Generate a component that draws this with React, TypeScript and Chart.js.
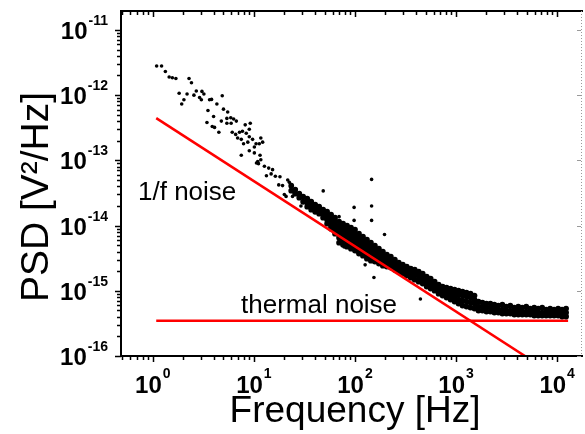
import React, { useEffect, useRef } from "react";
import { Chart, registerables } from "chart.js";

Chart.register(...registerables);

// ---------- data ----------
// scattered measurement points (low frequency / outliers)
const sparseFreqHz = [
  1.09, 1.22, 1.33, 1.45, 1.56, 1.69, 2.28, 2.41, 1.82, 2.03,
  1.93, 2.18, 2.55, 2.69, 2.9, 3.06, 3.2, 3.02, 3.64, 3.81,
  4.86, 4.3, 3.51, 5.0, 5.5, 3.99, 5.4, 5.9, 4.76, 6.3,
  3.43, 3.87, 4.08, 4.5, 5.4, 5.95, 6.7, 6.1, 6.6, 7.2,
  8.2, 9.2, 6.9, 7.5, 8.4, 9.0, 7.9, 8.7, 9.7, 10.5,
  7.5, 9.0, 10.1, 10.6, 7.7, 9.0, 11.7, 10.1, 11.3, 12.2,
  11.5, 10.9, 11.7, 11.1, 12.7, 14.0, 15.3, 13.3, 14.8, 16.3,
  18.1, 17.6, 19.2, 21.6, 22.4, 23.2, 26.1, 20.0, 20.8, 24.1,
  27.0, 29.2, 48.5, 69.6, 98, 98, 146, 146, 146, 196,
  126, 154, 242, 504, 444, 78, 102,
];
const sparsePsd = [
  2.8e-12, 2.8e-12, 2.3e-12, 1.9e-12, 1.85e-12, 1.8e-12, 1.8e-12, 1.55e-12, 1.07e-12, 8.5e-13,
  7.3e-13, 1.04e-12, 1.0e-12, 1.16e-12, 9.2e-13, 1.14e-12, 1.04e-12, 8.5e-13, 8.5e-13, 8.6e-13,
  9.8e-13, 7.3e-13, 5.8e-13, 6.1e-13, 5.5e-13, 4.7e-13, 4.4e-13, 4.5e-13, 4.0e-13, 4.3e-13,
  3.8e-13, 3.3e-13, 3.2e-13, 2.7e-13, 3.7e-13, 3.7e-13, 4.0e-13, 2.7e-13, 2.5e-13, 2.7e-13,
  3.5e-13, 3.7e-13, 2.2e-13, 2.1e-13, 2.6e-13, 2.3e-13, 1.8e-13, 1.9e-13, 2.1e-13, 1.8e-13,
  1.2e-13, 1.4e-13, 1.3e-13, 9.1e-14, 2.8e-13, 3.0e-13, 2.2e-13, 1.6e-13, 1.8e-13, 1.9e-13,
  1.2e-13, 9.6e-14, 1.02e-13, 8.9e-14, 8.1e-14, 7.6e-14, 7.2e-14, 5.8e-14, 6.2e-14, 5.7e-14,
  5.6e-14, 4.2e-14, 4.1e-14, 5.0e-14, 4.6e-14, 3.9e-14, 3.6e-14, 3.0e-14, 2.8e-14, 2.8e-14,
  3.0e-14, 2.0e-14, 3.4e-14, 1.37e-14, 1.9e-14, 1.2e-14, 5.1e-14, 2.0e-14, 1.2e-14, 7.3e-15,
  2.5e-15, 1.6e-15, 2.9e-15, 1.6e-15, 7.5e-16, 4.7e-15, 4.0e-15,
];

// dense band of measurement points: frequency and the PSD values seen at it
const bandFreqHz = [
  23.4, 25.6, 28.1, 30.7, 33.7, 36.9, 40.4, 44.2, 48.4, 53.0, 58.0, 63.5,
  69.6, 76.2, 83.4, 91.3, 100,
  109.5, 119.9, 131.3, 143.7, 157.4, 172.4, 188.7, 206.7, 226.3, 247.8, 271.3, 297.1, 325.3, 356.2, 390,
  427.1, 467.7, 512.1, 560.8, 614.1, 672.4, 736.3, 806.2, 882.8, 966.7, 1058, 1159, 1269, 1390, 1522,
  1666, 1824, 1998, 2187, 2395, 2623, 2872, 3145, 3443, 3771, 4129, 4521, 4950, 5420, 5935, 6499,
  7116, 7792, 8532, 9342, 10230, 11200, 12265,
];
const bandPsd = [
  [4.09e-14, 3.43e-14], [3.55e-14, 3.08e-14], [3.08e-14, 2.68e-14], [2.77e-14, 2.32e-14],
  [2.58e-14, 2.24e-14, 1.95e-14], [2.32e-14, 2.02e-14, 1.75e-14], [2.09e-14, 1.88e-14, 1.63e-14],
  [1.95e-14, 1.69e-14, 1.52e-14], [1.75e-14, 1.52e-14, 1.32e-14],
  [1.63e-14, 1.42e-14, 1.23e-14, 1.07e-14],
  [1.47e-14, 1.28e-14, 1.11e-14, 9.63e-15, 8.97e-15],
  [1.32e-14, 1.15e-14, 9.97e-15, 8.65e-15, 7.51e-15],
  [1.15e-14, 9.97e-15, 8.65e-15, 7.51e-15, 6.53e-15, 5.47e-15],
  [1.07e-14, 9.29e-15, 8.06e-15, 7.0e-15, 6.08e-15, 5.1e-15],
  [9.97e-15, 8.65e-15, 7.51e-15, 6.53e-15, 5.67e-15, 4.75e-15],
  [9.29e-15, 8.06e-15, 7.0e-15, 6.08e-15, 5.28e-15, 4.43e-15],
  [8.65e-15, 7.51e-15, 6.53e-15, 5.67e-15, 4.92e-15, 4.13e-15],
  [7.51e-15, 6.53e-15, 5.67e-15, 4.92e-15, 4.28e-15, 3.72e-15],
  [6.76e-15, 5.87e-15, 5.1e-15, 4.43e-15, 3.85e-15, 3.46e-15],
  [6.08e-15, 5.28e-15, 4.59e-15, 3.99e-15, 3.46e-15, 3.11e-15],
  [5.47e-15, 4.75e-15, 4.13e-15, 3.58e-15, 3.11e-15, 2.9e-15],
  [4.92e-15, 4.28e-15, 3.72e-15, 3.22e-15, 2.8e-15],
  [4.43e-15, 3.85e-15, 3.34e-15, 2.9e-15, 2.61e-15],
  [3.99e-15, 3.46e-15, 3.01e-15, 2.61e-15, 2.43e-15],
  [3.58e-15, 3.11e-15, 2.7e-15, 2.35e-15],
  [3.34e-15, 2.9e-15, 2.52e-15, 2.27e-15],
  [3.01e-15, 2.61e-15, 2.35e-15, 2.11e-15],
  [2.7e-15, 2.43e-15, 2.19e-15, 1.97e-15],
  [2.52e-15, 2.27e-15, 2.04e-15, 1.83e-15],
  [2.35e-15, 2.11e-15, 1.9e-15, 1.71e-15],
  [2.19e-15, 1.97e-15, 1.77e-15, 1.59e-15],
  [2.11e-15, 1.9e-15, 1.71e-15, 1.48e-15],
  [1.97e-15, 1.71e-15, 1.48e-15, 1.38e-15], [1.83e-15, 1.59e-15, 1.38e-15, 1.29e-15],
  [1.65e-15, 1.43e-15, 1.24e-15, 1.16e-15], [1.54e-15, 1.33e-15, 1.16e-15, 1.08e-15],
  [1.38e-15, 1.2e-15, 1.08e-15, 1.005e-15], [1.24e-15, 1.08e-15, 9.7e-16, 9.04e-16],
  [1.16e-15, 1.04e-15, 9.37e-16, 8.43e-16], [1.12e-15, 9.7e-16, 8.74e-16, 7.86e-16],
  [1.08e-15, 9.37e-16, 8.14e-16, 7.33e-16], [1.04e-15, 9.04e-16, 7.86e-16, 6.83e-16],
  [1.005e-15, 8.74e-16, 7.33e-16, 6.36e-16], [9.7e-16, 8.43e-16, 7.07e-16, 5.93e-16],
  [9.37e-16, 8.14e-16, 6.83e-16, 5.73e-16], [9.04e-16, 7.86e-16, 6.59e-16, 5.53e-16],
  [8.43e-16, 7.33e-16, 6.36e-16, 5.34e-16],
  [6.83e-16, 5.73e-16, 4.98e-16], [6.59e-16, 5.73e-16, 4.98e-16], [6.36e-16, 5.53e-16, 4.8e-16],
  [6.36e-16, 5.53e-16, 4.8e-16], [6.15e-16, 5.34e-16, 4.64e-16], [5.93e-16, 5.15e-16, 4.64e-16],
  [6.15e-16, 5.15e-16, 4.48e-16], [5.73e-16, 4.98e-16, 4.48e-16], [5.93e-16, 4.98e-16, 4.48e-16],
  [5.53e-16, 4.8e-16, 4.32e-16], [5.73e-16, 4.98e-16, 4.32e-16], [5.53e-16, 4.8e-16, 4.32e-16],
  [5.73e-16, 4.8e-16, 4.32e-16], [5.34e-16, 4.8e-16, 4.32e-16], [5.53e-16, 4.8e-16, 4.17e-16],
  [5.34e-16, 4.64e-16, 4.17e-16], [5.53e-16, 4.64e-16, 4.17e-16], [5.15e-16, 4.64e-16, 4.17e-16],
  [5.34e-16, 4.64e-16, 4.17e-16], [5.15e-16, 4.48e-16, 4.17e-16], [5.34e-16, 4.64e-16, 4.17e-16],
  [5.15e-16, 4.48e-16, 4.03e-16], [5.34e-16, 4.64e-16, 4.03e-16],
];

// fitted lines
const flickerFreqHz = [1.08, 6000];
const flickerPsd = [4.44e-13, 8.0e-17];
const thermalFreqHz = [1.08, 12840];
const thermalPsd = [3.46e-16, 3.46e-16];

// axes
const xMin = 0.484;
const xMax = 17230;
const yMin = 1e-16;
const yMax = 1.95e-11;
const xTickExponents = [0, 1, 2, 3, 4];
const yTickExponents = [-11, -12, -13, -14, -15, -16];

const xTitle = "Frequency [Hz]";
const yTitle = "PSD [V\u00B2/Hz]";
const flickerLabel = "1/f noise";
const thermalLabel = "thermal noise";

const FONT = '"Liberation Sans", Arial, Helvetica, sans-serif';

function drawPower(ctx: CanvasRenderingContext2D, exp: number, x: number, baseY: number, align: "center" | "right", expRise: number) {
  ctx.textAlign = "left";
  ctx.textBaseline = "alphabetic";
  ctx.font = `bold 24px ${FONT}`;
  const bw = ctx.measureText("10").width;
  ctx.font = `bold 14px ${FONT}`;
  const es = String(exp);
  const ew = ctx.measureText(es).width;
  const gap = 1;
  const total = bw + gap + ew;
  const left = align === "center" ? x - total / 2 : x - total;
  ctx.font = `bold 24px ${FONT}`;
  ctx.fillText("10", left, baseY);
  ctx.font = `bold 14px ${FONT}`;
  ctx.fillText(es, left + bw + gap, baseY - expRise);
}

const framePlugin = {
  id: "originFrame",
  afterDraw(chart: any) {
    const { ctx, chartArea: a, scales } = chart;
    const xs = scales.x;
    const ys = scales.y;
    ctx.save();
    ctx.fillStyle = "#000";
    ctx.strokeStyle = "#000";

    // frame lines
    ctx.lineWidth = 2;
    ctx.beginPath();
    ctx.moveTo(a.left, a.top);
    ctx.lineTo(a.left, a.bottom);
    ctx.lineTo(a.right + 2, a.bottom);
    ctx.moveTo(a.left - 1, a.top);
    ctx.lineTo(a.right + 2, a.top);
    ctx.stroke();

    // right axis (faint, dotted)
    ctx.save();
    ctx.strokeStyle = "#9a9a9a";
    ctx.lineWidth = 1;
    ctx.setLineDash([1, 2]);
    ctx.beginPath();
    ctx.moveTo(a.right + 0.5, a.top);
    ctx.lineTo(a.right + 0.5, a.bottom);
    ctx.stroke();
    ctx.restore();

    // x ticks (bottom: outward, top: inward)
    ctx.lineWidth = 1.5;
    ctx.beginPath();
    for (let e = -1; e <= 4; e++) {
      for (let m = 1; m <= 9; m++) {
        const v = m * Math.pow(10, e);
        if (v < xs.min || v > xs.max) continue;
        const px = Math.round(xs.getPixelForValue(v)) + 0.5;
        const len = m === 1 ? 6 : 4;
        ctx.moveTo(px, a.bottom);
        ctx.lineTo(px, a.bottom + len);
        ctx.moveTo(px, a.top);
        ctx.lineTo(px, a.top + len);
      }
    }
    // y ticks (left: outward)
    for (let e = -17; e <= -10; e++) {
      for (let m = 1; m <= 9; m++) {
        const v = m * Math.pow(10, e);
        if (v < ys.min * 0.999 || v > ys.max) continue;
        const py = Math.round(ys.getPixelForValue(v)) + 0.5;
        const len = m === 1 ? 6 : 4;
        ctx.moveTo(a.left, py);
        ctx.lineTo(a.left - len, py);
      }
    }
    ctx.stroke();

    // right axis ticks (faint)
    ctx.save();
    ctx.strokeStyle = "#9a9a9a";
    ctx.lineWidth = 1;
    ctx.beginPath();
    for (const e of yTickExponents) {
      const py = Math.round(ys.getPixelForValue(Math.pow(10, e))) + 0.5;
      ctx.moveTo(a.right, py);
      ctx.lineTo(a.right - 4, py);
    }
    ctx.stroke();
    ctx.restore();

    // tick labels
    for (const e of xTickExponents) {
      const px = xs.getPixelForValue(Math.pow(10, e));
      drawPower(ctx, e, px, 393, "center", 15);
    }
    for (const e of yTickExponents) {
      const py = ys.getPixelForValue(Math.pow(10, e));
      drawPower(ctx, e, 108, py + 9, "right", 14);
    }

    // axis titles
    ctx.textAlign = "center";
    ctx.textBaseline = "alphabetic";
    ctx.font = `37px ${FONT}`;
    ctx.fillText(xTitle, 355, 422);
    ctx.save();
    ctx.font = `39px ${FONT}`;
    ctx.translate(48, 197);
    ctx.rotate(-Math.PI / 2);
    ctx.fillText(yTitle, 0, 0);
    ctx.restore();

    // annotations
    ctx.font = `26px ${FONT}`;
    ctx.textAlign = "left";
    ctx.fillText(flickerLabel, 138, 200);
    ctx.fillText(thermalLabel, 241, 313);

    ctx.restore();
  },
};

export default function App() {
  const canvasRef = useRef<HTMLCanvasElement | null>(null);

  useEffect(() => {
    if (!canvasRef.current) return;
    const sparse = sparseFreqHz.map((f, i) => ({ x: f, y: sparsePsd[i] }));
    const band: { x: number; y: number }[] = [];
    bandFreqHz.forEach((f, i) => {
      bandPsd[i].forEach((p) => band.push({ x: f, y: p }));
    });
    const flicker = flickerFreqHz.map((f, i) => ({ x: f, y: flickerPsd[i] }));
    const thermal = thermalFreqHz.map((f, i) => ({ x: f, y: thermalPsd[i] }));

    const chart = new Chart(canvasRef.current, {
      type: "scatter",
      data: {
        datasets: [
          {
            data: thermal,
            showLine: true,
            borderColor: "#ff0000",
            borderWidth: 2.5,
            pointRadius: 0,
            order: 3,
          },
          {
            data: sparse,
            backgroundColor: "#000",
            borderWidth: 0,
            pointRadius: 1.8,
            order: 2,
          },
          {
            data: band,
            backgroundColor: "#000",
            borderWidth: 0,
            pointRadius: 2.9,
            order: 2,
          },
          {
            data: flicker,
            showLine: true,
            borderColor: "#ff0000",
            borderWidth: 2.5,
            pointRadius: 0,
            order: 1,
          },
        ],
      },
      options: {
        animation: false,
        responsive: false,
        events: [],
        layout: { padding: { left: 121, right: 2, top: 11, bottom: 78 } },
        plugins: { legend: { display: false }, tooltip: { enabled: false } },
        scales: {
          x: { type: "logarithmic", min: xMin, max: xMax, display: false },
          y: { type: "logarithmic", min: yMin, max: yMax, display: false },
        },
      },
      plugins: [framePlugin],
    });
    return () => chart.destroy();
  }, []);

  return (
    <div style={{ position: "absolute", left: 0, top: 0, width: 585, height: 434, background: "#fff" }}>
      <canvas ref={canvasRef} width={585} height={434} style={{ display: "block" }} />
    </div>
  );
}
